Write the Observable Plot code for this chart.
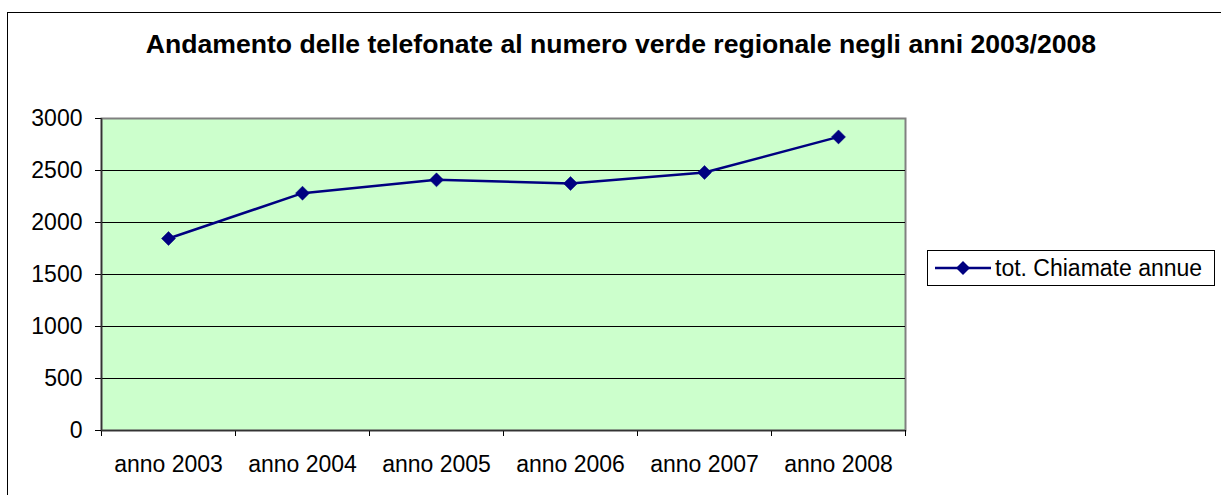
<!DOCTYPE html>
<html>
<head>
<meta charset="utf-8">
<script src="https://cdn.jsdelivr.net/npm/d3@7"></script>
<script src="https://cdn.jsdelivr.net/npm/@observablehq/plot@0.6"></script>
<style>
  html, body { margin: 0; padding: 0; background: #fff; }
  #wrap { position: relative; width: 1221px; height: 495px; overflow: hidden; background: #fff;
          font-family: "Liberation Sans", Arial, sans-serif; }
  #frame { position: absolute; left: 7px; top: 12px; width: 1240px; height: 520px;
           border: 1.5px solid #000; box-sizing: border-box; }
  #title { position: absolute; left: 0; width: 1242px; top: 29px; text-align: center;
           font-weight: bold; font-size: 26.6px; line-height: 30px; color: #000; white-space: nowrap; }
  #chart { position: absolute; left: 0; top: 0; }
  #legend { position: absolute; left: 927px; top: 250px; width: 288px; height: 36px;
            border: 1px solid #000; box-sizing: border-box; background: #fff;
            display: flex; align-items: center; font-size: 23px; color: #000; white-space: nowrap; }
  #legend svg { margin-left: 7px; margin-right: 4px; }
</style>
</head>
<body>
<div id="wrap">
  <div id="frame"></div>
  <div id="chart"></div>
  <div id="title"></div>
  <div id="legend"></div>
</div>
<script>
const titleText = "Andamento delle telefonate al numero verde regionale negli anni 2003/2008";
const seriesName = "tot. Chiamate annue";
const categories = ["anno 2003", "anno 2004", "anno 2005", "anno 2006", "anno 2007", "anno 2008"];
const values = [1846, 2282, 2410, 2375, 2481, 2823];
const yTicks = [0, 500, 1000, 1500, 2000, 2500, 3000];

const navy = "#000080";
const data = categories.map((c, i) => ({ i, c, v: values[i] }));
const xPos = d => d.i + 0.5;

const chart = Plot.plot({
  width: 1221,
  height: 495,
  marginLeft: 101,
  marginRight: 316,
  marginTop: 118,
  marginBottom: 65,
  style: { fontFamily: "'Liberation Sans', Arial, sans-serif", background: "transparent", color: "#000" },
  x: { domain: [0, categories.length], axis: null },
  y: { domain: [0, 3000], axis: null },
  marks: [
    Plot.frame({ fill: "#CCFFCC", stroke: "#808080", strokeWidth: 2 }),
    Plot.ruleY(yTicks.filter(t => t > 0 && t < 3000), { stroke: "#000", strokeWidth: 1 }),
    Plot.axisY({ ticks: yTicks, tickSize: 6, tickPadding: 13, fontSize: 23, label: null, stroke: "#000",
                 tickFormat: d => String(d) }),
    Plot.axisX({ ticks: d3.range(categories.length + 1), tickSize: 6, tickFormat: () => "", label: null, stroke: "#000" }),
    Plot.ruleY([0], { stroke: "#333", strokeWidth: 1.5 }),
    Plot.ruleX([0], { stroke: "#333", strokeWidth: 1.5 }),
    Plot.text(data, { x: xPos, y: () => 0, text: "c", dy: 34, fontSize: 23, fill: "#000" }),
    Plot.line(data, { x: xPos, y: "v", stroke: navy, strokeWidth: 2.5 }),
    Plot.dot(data, { x: xPos, y: "v", symbol: "diamond2", r: 6.3, fill: navy, stroke: navy, strokeWidth: 0.5 })
  ]
});
document.getElementById("chart").appendChild(chart);
document.getElementById("title").textContent = titleText;

const leg = document.getElementById("legend");
leg.innerHTML = `<svg width="56" height="16" viewBox="0 0 56 16">
  <line x1="0" y1="8" x2="56" y2="8" stroke="${navy}" stroke-width="2.5"/>
  <path d="M28,1 L35,8 L28,15 L21,8 Z" fill="${navy}"/>
</svg><span></span>`;
leg.querySelector("span").textContent = seriesName;
</script>
</body>
</html>
